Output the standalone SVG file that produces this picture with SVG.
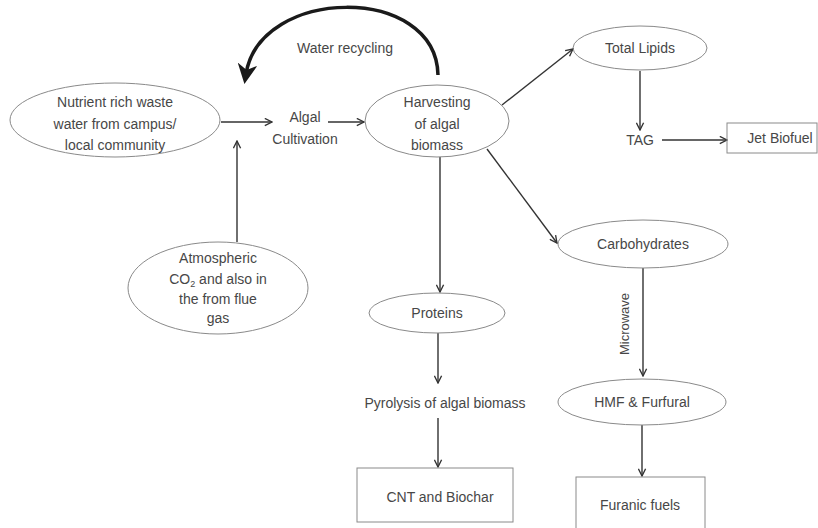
<svg xmlns="http://www.w3.org/2000/svg" width="818" height="528" viewBox="0 0 818 528">
<defs>
<style>
.t{font-family:"Liberation Sans",Arial,sans-serif;font-size:14px;fill:#474747;text-anchor:middle}
.n{fill:none;stroke:#8a8a8a;stroke-width:1}
.c{fill:none;stroke:#333;stroke-width:1.4;marker-end:url(#ah)}
</style>
<marker id="ah" viewBox="0 0 10 10" refX="9" refY="5" markerWidth="9" markerHeight="9" markerUnits="userSpaceOnUse" orient="auto">
<path d="M1,1 L9,5 L1,9" fill="none" stroke="#333" stroke-width="1.5"/>
</marker>
<marker id="big" viewBox="0 0 10 10" refX="5" refY="5" markerWidth="20" markerHeight="20" markerUnits="userSpaceOnUse" orient="auto">
<path d="M0,0 L10,5 L0,10 L3,5 Z" fill="#1a1a1a"/>
</marker>
</defs>
<rect width="818" height="528" fill="#fff"/>
<g id="connectors">
<path class="c" d="M221,122 L272,122"/>
<path class="c" d="M328,122 L364,122"/>
<path class="c" d="M237,242 L237,141"/>
<path d="M438,75 C436,-16 260,-14 246,74" fill="none" stroke="#1a1a1a" stroke-width="3.5" marker-end="url(#big)"/>
<path class="c" d="M502,105 L573,49"/>
<path class="c" d="M640,71 L640,130"/>
<path class="c" d="M662,140 L727,140"/>
<path class="c" d="M440,157 L440,292"/>
<path class="c" d="M487,149 L557,243"/>
<path class="c" d="M438,333 L438,383"/>
<path class="c" d="M438,418 L438,467"/>
<path class="c" d="M643,268 L643,376"/>
<path class="c" d="M642,425 L642,476"/>
<text class="t" x="625" y="320" transform="rotate(-90 629 320)" style="font-size:13px">Microwave</text>
<text class="t" x="345" y="53">Water recycling</text>
</g>
<g id="nutrient">
<ellipse class="n" cx="115" cy="120" rx="105" ry="37"/>
<text class="t" x="115" y="107">Nutrient rich waste</text>
<text class="t" x="115" y="129">water from campus/</text>
<text class="t" x="115" y="150">local community</text>
</g>
<g id="algal">
<text class="t" x="305" y="122">Algal</text>
<text class="t" x="305" y="144">Cultivation</text>
</g>
<g id="harvesting">
<ellipse class="n" cx="437" cy="121" rx="72" ry="36"/>
<text class="t" x="437" y="107">Harvesting</text>
<text class="t" x="437" y="129">of algal</text>
<text class="t" x="437" y="150">biomass</text>
</g>
<g id="co2">
<ellipse class="n" cx="218" cy="288" rx="90" ry="46"/>
<text class="t" x="218" y="263">Atmospheric</text>
<text class="t" x="218" y="284">CO<tspan font-size="9" dy="3">2</tspan><tspan dy="-3"> and also in</tspan></text>
<text class="t" x="218" y="304">the from flue</text>
<text class="t" x="218" y="323">gas</text>
</g>
<g id="lipids">
<ellipse class="n" cx="640" cy="48" rx="67" ry="22"/>
<text class="t" x="640" y="53">Total Lipids</text>
</g>
<g id="tag">
<text class="t" x="640" y="145">TAG</text>
</g>
<g id="jet">
<rect class="n" x="727" y="123" width="90" height="30"/>
<text class="t" x="780" y="143">Jet Biofuel</text>
</g>
<g id="carbohydrates">
<ellipse class="n" cx="643" cy="244" rx="85" ry="24"/>
<text class="t" x="643" y="249">Carbohydrates</text>
</g>
<g id="proteins">
<ellipse class="n" cx="437" cy="313" rx="68" ry="20"/>
<text class="t" x="437" y="318">Proteins</text>
</g>
<g id="pyrolysis">
<text class="t" x="445" y="408">Pyrolysis of algal biomass</text>
</g>
<g id="cnt">
<rect class="n" x="357" y="468" width="156" height="54"/>
<text class="t" x="440" y="502">CNT and Biochar</text>
</g>
<g id="hmf">
<ellipse class="n" cx="642" cy="402" rx="84" ry="23"/>
<text class="t" x="642" y="407">HMF &amp; Furfural</text>
</g>
<g id="furanic">
<rect class="n" x="576" y="477" width="129" height="60"/>
<text class="t" x="640" y="510">Furanic fuels</text>
</g>
</svg>
